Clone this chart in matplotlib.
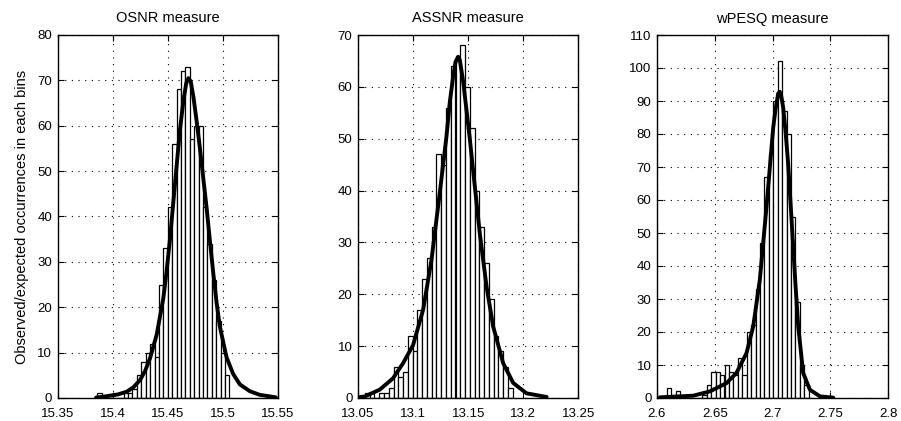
import matplotlib
matplotlib.use("Agg")
import matplotlib.pyplot as plt
import numpy as np

plt.rcParams['font.family'] = ['Liberation Sans', 'DejaVu Sans']

# ---------------- data ----------------
titles = ["OSNR measure", "ASSNR measure", "wPESQ measure"]
ylabel_text = "Observed/expected occurrences in each bins"

# OSNR histogram
osnr_centers = [15.388, 15.392, 15.396, 15.400, 15.404, 15.408, 15.412, 15.416, 15.420, 15.424,
                15.428, 15.432, 15.436, 15.440, 15.444, 15.448, 15.452, 15.456, 15.460, 15.464,
                15.468, 15.472, 15.476, 15.480, 15.484, 15.488, 15.492, 15.496, 15.500, 15.504]
osnr_counts = [1, 0, 0, 0, 0, 0, 1, 1, 2, 5, 8, 10, 12, 9, 25, 33, 42, 56, 68, 72,
               73, 57, 60, 60, 42, 34, 26, 17, 10, 5]
osnr_fit_x = [15.385, 15.392, 15.405, 15.413, 15.419, 15.425, 15.4295, 15.434, 15.440, 15.446,
              15.449, 15.452, 15.455, 15.458, 15.461, 15.4642, 15.4667, 15.4687, 15.4708, 15.4732,
              15.4762, 15.4792, 15.4822, 15.4852, 15.4883, 15.4913, 15.4943, 15.4973, 15.5033, 15.5093,
              15.5154, 15.5244, 15.5334, 15.548]
osnr_fit_y = [0.1, 0.3, 0.8, 1.4, 2.4, 4.0, 6.0, 8.8, 14, 22,
              28, 35, 43, 51, 59, 65.5, 69.3, 70.5, 69.8, 66.5,
              61, 55, 48.5, 42, 34.5, 27.5, 21, 15.7, 9, 5.3,
              3, 1.5, 0.7, 0.15]

# ASSNR histogram
assnr_centers = [13.0584, 13.0627, 13.0671, 13.0714, 13.0757, 13.0801, 13.0844, 13.0887, 13.0931,
                 13.0974, 13.1017, 13.1060, 13.1104, 13.1147, 13.1190, 13.1234, 13.1277, 13.1320,
                 13.1363, 13.1407, 13.1450, 13.1493, 13.1537, 13.1580, 13.1623, 13.1667, 13.1710,
                 13.1753, 13.1796, 13.1840, 13.1883]
assnr_counts = [1, 1, 0, 1, 1, 2, 6, 4, 5, 12, 9, 17, 23, 27, 33, 47, 45, 56, 64, 66,
                68, 60, 52, 40, 33, 26, 19, 12, 9, 6, 2]
assnr_fit_x = [13.052, 13.0561, 13.0697, 13.0818, 13.0909, 13.1000, 13.1091, 13.1167, 13.1242,
               13.1303, 13.1333, 13.1364, 13.1385, 13.1409, 13.1424, 13.1455, 13.1485, 13.1515,
               13.1545, 13.1606, 13.1667, 13.1727, 13.1818, 13.1909, 13.2030, 13.2212]
assnr_fit_y = [0.2, 0.3, 1.6, 3.8, 6.7, 10.2, 17, 26.6, 39.5,
               50.4, 57, 62, 64.8, 65.8, 65.2, 61, 55.5, 50,
               43.9, 31.7, 21.5, 13.8, 6.7, 2.9, 0.9, 0.2]

# wPESQ histogram
wpesq_centers = [2.6104, 2.6142, 2.6181, 2.6219, 2.6257, 2.6296, 2.6334, 2.6373, 2.6411, 2.6449,
                 2.6488, 2.6526, 2.6564, 2.6603, 2.6641, 2.6679, 2.6718, 2.6756, 2.6795, 2.6833,
                 2.6871, 2.6910, 2.6948, 2.6986, 2.7025, 2.7063, 2.7101, 2.7140, 2.7178, 2.7216,
                 2.7255, 2.7293]
wpesq_counts = [3, 0, 2, 0, 0, 0, 0, 0, 1, 4, 8, 8, 7, 10, 8, 7, 12, 7, 20, 22,
                33, 47, 67, 74, 90, 102, 87, 80, 55, 29, 10, 4]
wpesq_fit_x = [2.6024, 2.6313, 2.6457, 2.6601, 2.6687, 2.6774, 2.6832, 2.6889, 2.6947, 2.6976,
               2.7005, 2.7025, 2.7048, 2.7062, 2.7077, 2.7091, 2.7111, 2.7134, 2.7155, 2.7178,
               2.7198, 2.7221, 2.7264, 2.7322, 2.7409, 2.7524]
wpesq_fit_y = [0.2, 0.7, 2, 4.5, 7.6, 13.6, 21.7, 35.8, 58, 70,
               82, 87.5, 92.3, 92.8, 91, 88, 81, 71, 59, 45.7,
               34, 21.7, 7.6, 2.5, 0.5, 0.1]

osnr_xticks = [15.35, 15.4, 15.45, 15.5, 15.55]
assnr_xticks = [13.05, 13.1, 13.15, 13.2, 13.25]
wpesq_xticks = [2.6, 2.65, 2.7, 2.75, 2.8]
osnr_xlabels = ["15.35", "15.4", "15.45", "15.5", "15.55"]
assnr_xlabels = ["13.05", "13.1", "13.15", "13.2", "13.25"]
wpesq_xlabels = ["2.6", "2.65", "2.7", "2.75", "2.8"]
osnr_ymax, assnr_ymax, wpesq_ymax = 80, 70, 110
osnr_bw, assnr_bw, wpesq_bw = 0.004, 0.00433, 0.003836

# ---------------- figure ----------------
W, H = 901, 421
fig = plt.figure(figsize=(W / 100, H / 100), dpi=100)

rects = [(57.5, 278.0), (358.0, 578.3), (657.0, 888.3)]
top_px, bot_px = 35.0, 398.0

panels = [
    (osnr_centers, osnr_counts, osnr_bw, osnr_fit_x, osnr_fit_y, osnr_xticks, osnr_xlabels, osnr_ymax),
    (assnr_centers, assnr_counts, assnr_bw, assnr_fit_x, assnr_fit_y, assnr_xticks, assnr_xlabels, assnr_ymax),
    (wpesq_centers, wpesq_counts, wpesq_bw, wpesq_fit_x, wpesq_fit_y, wpesq_xticks, wpesq_xlabels, wpesq_ymax),
]

for i, (cen, cnt, bw, fx, fy, xt, xl, ymax) in enumerate(panels):
    l, r = rects[i]
    ax = fig.add_axes([l / W, (H - bot_px) / H, (r - l) / W, (bot_px - top_px) / H])
    ax.bar(cen, cnt, width=bw, color='white', edgecolor='black', linewidth=0.9, zorder=2)
    ax.plot(fx, fy, color='black', linewidth=2.8, zorder=3, solid_capstyle='round')
    ax.set_xlim(xt[0], xt[-1])
    ax.set_ylim(0, ymax)
    ax.set_xticks(xt)
    ax.set_xticklabels(xl)
    ax.set_yticks(np.arange(0, ymax + 1, 10))
    ax.grid(True, color='black', linestyle=(0, (1, 5)), linewidth=0.8, zorder=1)
    ax.set_axisbelow(True)
    ax.tick_params(direction='in', length=4, width=0.8, top=True, right=True,
                   labelsize=9.5, colors='black')
    ax.tick_params(axis='x', pad=7)
    ax.tick_params(axis='y', pad=4)
    for sp in ax.spines.values():
        sp.set_linewidth(1.0)
        sp.set_color('black')
    ax.set_title(titles[i], fontsize=10.5, pad=9)
    if i == 0:
        ax.set_ylabel(ylabel_text, fontsize=10.5, labelpad=6)

fig.savefig("out.png", dpi=100)
